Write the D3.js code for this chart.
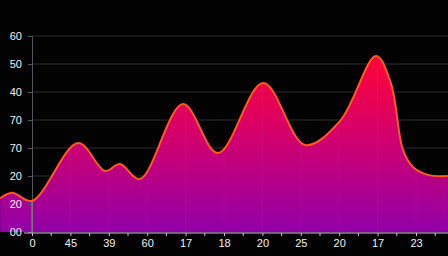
<!DOCTYPE html>
<html>
<head>
<meta charset="utf-8">
<script src="https://cdn.jsdelivr.net/npm/d3@7"></script>
<style>
  html, body { margin: 0; padding: 0; background: #020203; }
  svg { display: block; }
  .tick text { font-family: "Liberation Sans", Arial, sans-serif; font-size: 11px; fill: #f2f2f2; }
</style>
</head>
<body>
<svg id="chart" width="448" height="256"></svg>
<script>
// x positions in tick units, y in axis units
const xPos = [-0.83, -0.52, 0, 1.2, 1.9, 2.29, 2.81, 3.93, 4.84, 6.02, 7.11, 8.02, 8.96, 9.35, 9.66, 9.92, 10.31, 10.83];
const yVal = [12.0, 14.0, 11.1, 31.8, 21.8, 24.3, 18.9, 45.7, 28.2, 53.2, 31.1, 39.6, 62.9, 52.9, 29.3, 23.2, 20.4, 20.0];
const xLabels = ["0", "45", "39", "60", "17", "18", "20", "25", "20", "17", "23"];
const yLabels = ["00", "20", "20", "70", "70", "40", "50", "60"];

const width = 448, height = 256;
const margin = { left: 32, top: 36, bottom: 24 };
const baseY = 232;

const svg = d3.select("#chart");

const x = d3.scaleLinear()
  .domain([0, 10])
  .range([margin.left, margin.left + 384]);

const y = d3.scaleLinear()
  .domain([0, 70])
  .range([baseY, margin.top]);

const data = xPos.map((d, i) => ({ x: d, y: yVal[i] }));
const curve = d3.curveCatmullRom.alpha(0.5);

const defs = svg.append("defs");
const grad = defs.append("linearGradient")
  .attr("id", "fillGrad")
  .attr("gradientUnits", "userSpaceOnUse")
  .attr("x1", 0).attr("y1", 56)
  .attr("x2", 0).attr("y2", baseY);
grad.append("stop").attr("offset", "0%").attr("stop-color", "#ff0536");
grad.append("stop").attr("offset", "45%").attr("stop-color", "#d4006c");
grad.append("stop").attr("offset", "100%").attr("stop-color", "#9200a8");

const area = d3.area()
  .x((d) => x(d.x))
  .y0(baseY)
  .y1((d) => y(d.y))
  .curve(curve);

const line = d3.line()
  .x((d) => x(d.x))
  .y((d) => y(d.y))
  .curve(curve);

defs.append("clipPath")
  .attr("id", "areaClip")
  .append("path")
  .datum(data)
  .attr("d", area);

// horizontal grid
svg.append("g")
  .selectAll("line")
  .data(d3.range(0, 80, 10))
  .join("line")
  .attr("x1", margin.left)
  .attr("x2", width)
  .attr("y1", (d) => y(d))
  .attr("y2", (d) => y(d))
  .attr("stroke", "#2c2c30")
  .attr("stroke-width", 1);

svg.append("path")
  .datum(data)
  .attr("d", area)
  .attr("fill", "url(#fillGrad)");

// faint vertical stripes inside the area
svg.append("g")
  .attr("clip-path", "url(#areaClip)")
  .selectAll("line")
  .data(d3.range(1, 11))
  .join("line")
  .attr("x1", (d) => x(d))
  .attr("x2", (d) => x(d))
  .attr("y1", margin.top)
  .attr("y2", baseY)
  .attr("stroke", "#ffffff")
  .attr("stroke-opacity", 0.04);

// y axis
const yAxis = svg.append("g")
  .attr("transform", `translate(${margin.left},0)`)
  .call(
    d3.axisLeft(y)
      .tickValues(d3.range(0, 80, 10))
      .tickFormat((d, i) => yLabels[i])
      .tickSize(4)
      .tickPadding(6)
  );
yAxis.select(".domain").attr("stroke", "#55555f");
yAxis.selectAll(".tick line").attr("stroke", "#55555f");
yAxis.selectAll(".tick text").attr("dy", "0.35em");

svg.append("line")
  .attr("clip-path", "url(#areaClip)")
  .attr("x1", x(0)).attr("x2", x(0))
  .attr("y1", margin.top).attr("y2", baseY)
  .attr("stroke", "#f0c0ff")
  .attr("stroke-opacity", 0.5);

svg.append("path")
  .datum(data)
  .attr("d", line)
  .attr("fill", "none")
  .attr("stroke", "#ff5a1f")
  .attr("stroke-width", 2);

// x axis
const xAxis = svg.append("g")
  .attr("transform", `translate(0,${baseY + 1})`)
  .call(
    d3.axisBottom(x)
      .tickValues(d3.range(0, 11))
      .tickFormat((d, i) => xLabels[i])
      .tickSize(3)
      .tickPadding(3)
  );
xAxis.select(".domain").attr("d", `M${margin.left - 8},0H${width}`).attr("stroke", "#d9b8e6");
xAxis.selectAll(".tick line").attr("stroke", "#d9b8e6");

svg.append("g")
  .selectAll("line")
  .data(d3.range(0.5, 11, 1))
  .join("line")
  .attr("x1", (d) => x(d))
  .attr("x2", (d) => x(d))
  .attr("y1", baseY + 1)
  .attr("y2", baseY + 4)
  .attr("stroke", "#d9b8e6");
</script>
</body>
</html>
